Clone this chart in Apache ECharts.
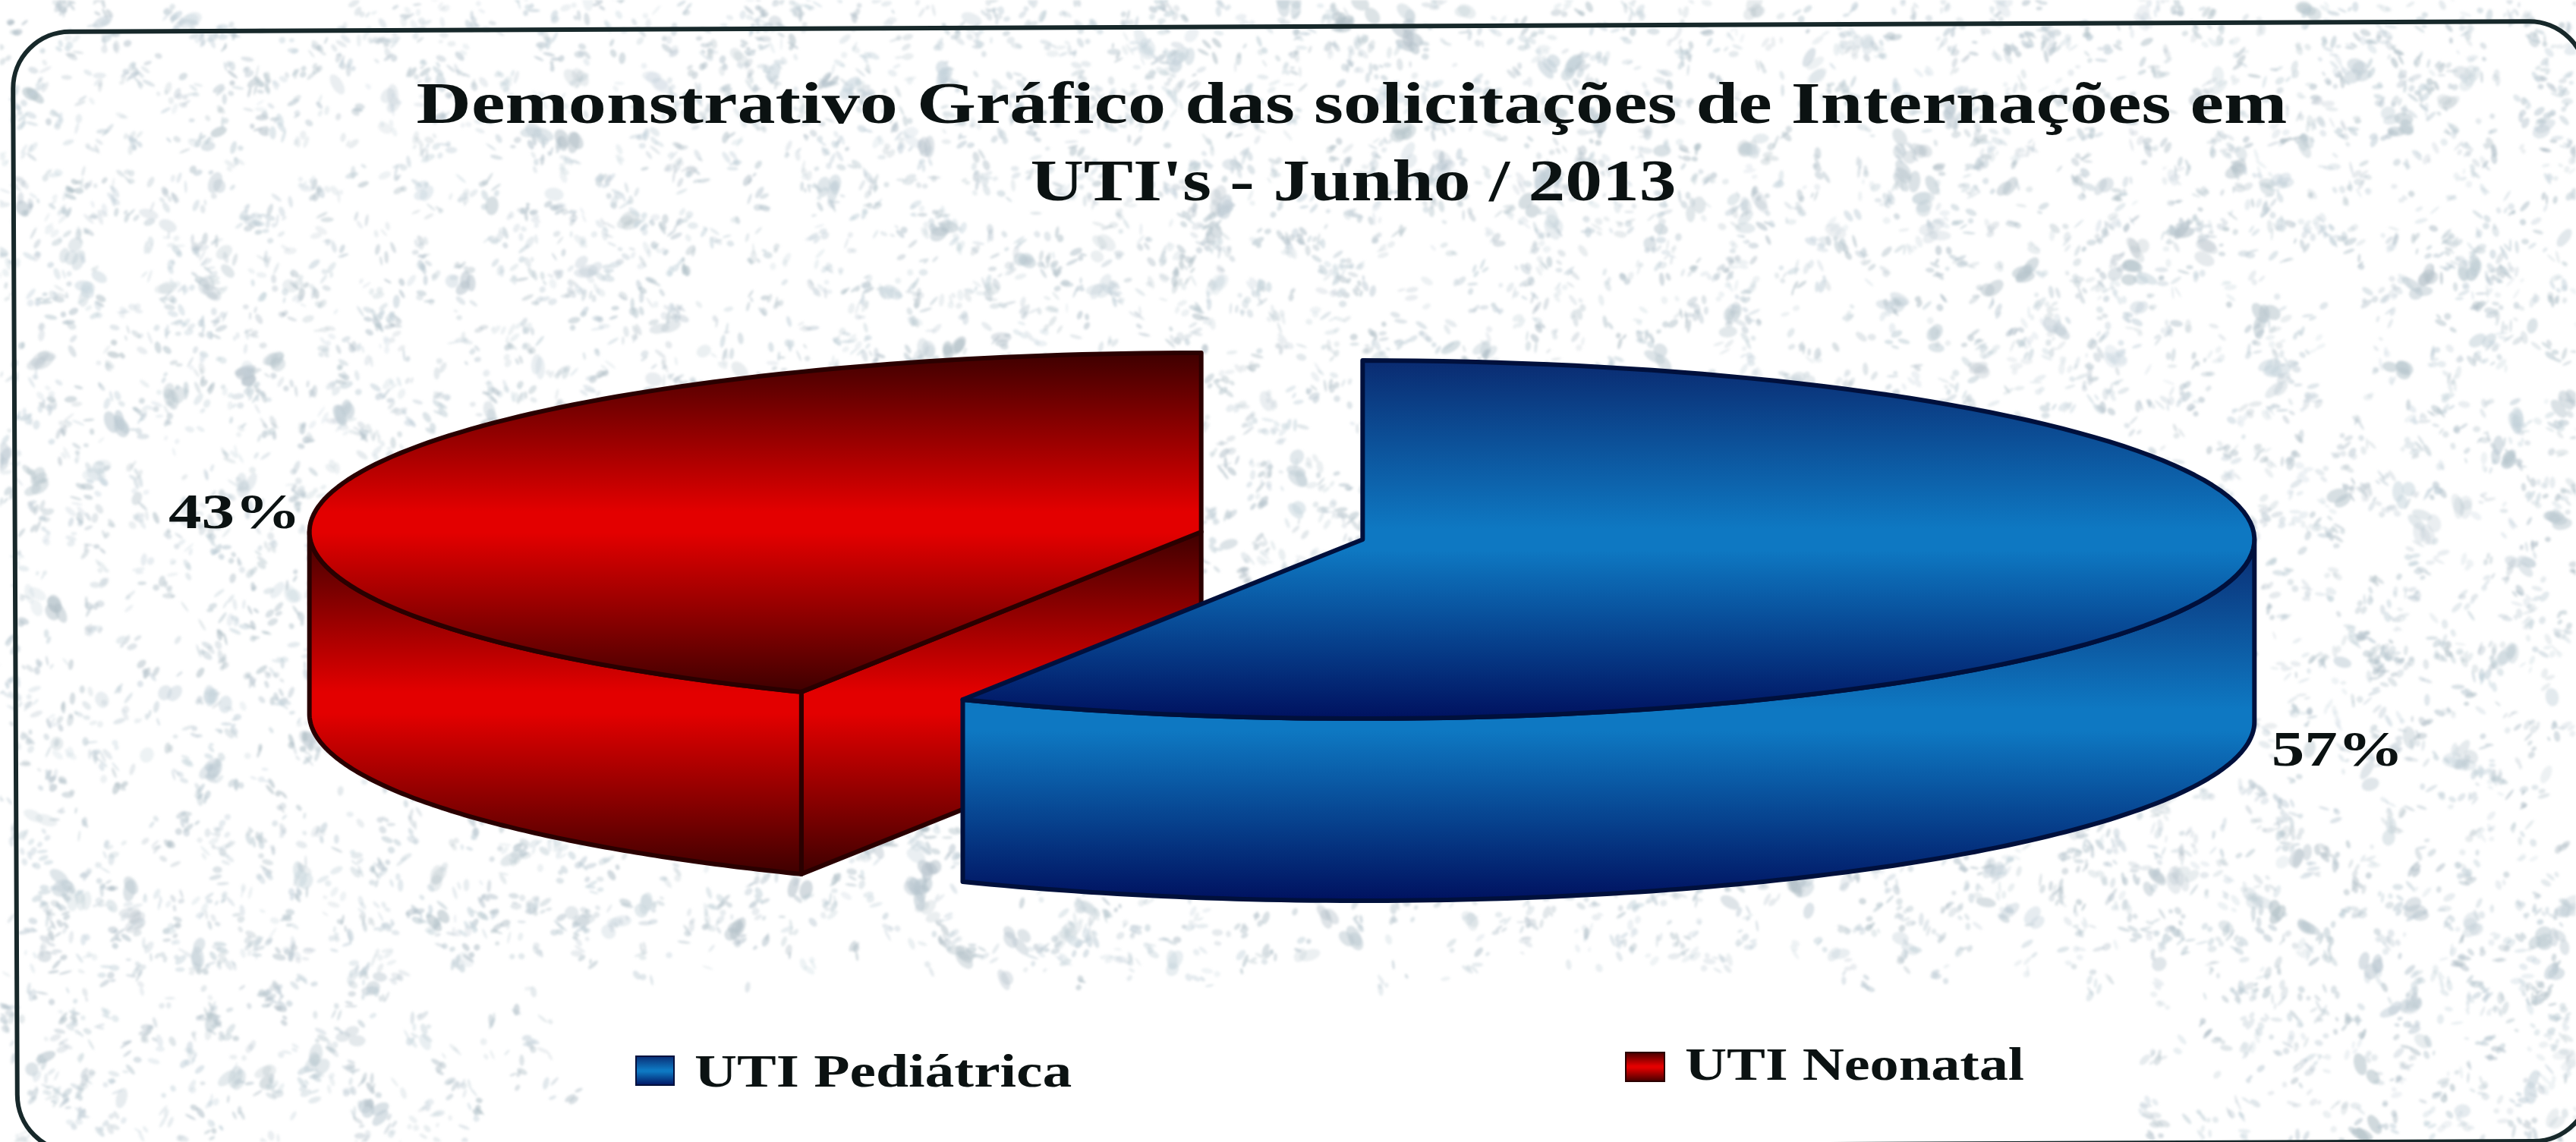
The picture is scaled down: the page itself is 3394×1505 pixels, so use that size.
<!DOCTYPE html>
<html>
<head>
<meta charset="utf-8">
<title>Demonstrativo Gráfico</title>
<style>
  html, body { margin: 0; padding: 0; background: #fff; }
  #main { width: 3394px; height: 1505px; }
</style>
<script src="https://cdn.jsdelivr.net/npm/echarts@6/dist/echarts.min.js"></script>
</head>
<body>
<div id="main"></div>
<script>
// dados do grafico
var categories = ['UTI Pediátrica', 'UTI Neonatal'];
var values = [57.4, 42.6];
var titleLines = ['Demonstrativo Gráfico das solicitações de Internações em', "UTI's - Junho / 2013"];

// layout
var cx = 1689, cy = 706;
var rx = 1175, ry = 236;
var depth = 240;
var explode = 0.093;
var labelFont = 'bold 65px "Liberation Serif"';
var textColor = '#0b1212';
// deslocamento do rotulo em relacao a borda da fatia: dx, dy
var labelShift = [[54, 227], [-43, 33]];
var titlePos = [
  { x: 1781, y: 142, scale: 1.268 },
  { x: 1783, y: 244, scale: 1.235 }
];
var legendPos = [
  { x: 838, y: 1392, w: 50, h: 38, tx: 915, ty: 1416, scale: 1.25 },
  { x: 2142, y: 1387, w: 51, h: 38, tx: 2220, ty: 1407, scale: 1.23 }
];

var palette = [
  { dark: '#0a2a70', mid: '#0e78c2', low: '#00105e', line: '#00103c' },
  { dark: '#3c0000', mid: '#e30000', low: '#3c0000', line: '#2a0000' }
];

function faceColor(p) {
  return {
    type: 'linear', x: 0, y: 0, x2: 0, y2: 1,
    colorStops: [
      { offset: 0, color: p.dark },
      { offset: 0.47, color: p.mid },
      { offset: 0.53, color: p.mid },
      { offset: 1, color: p.low }
    ]
  };
}

// textura de fundo (papel manchado), so decoracao, nao tem dado aqui
function makeTexture() {
  var raw = document.createElement('canvas');
  raw.width = 3394;
  raw.height = 1505;
  var ctx = raw.getContext('2d');
  var seed = 20130601;
  function next() {
    seed = (seed * 1664525 + 1013904223) % 4294967296;
    return seed / 4294967296;
  }
  for (var i = 0; i < 7000; i++) {
    var x = next() * 3394, y = next() * 1505;
    var keep = 1;
    // faixa da legenda quase branca
    if (y > 1250 && x > 500 && x < 3000) {
      var edge = Math.min(x - 500, 3000 - x) / 300;
      keep = 1 - Math.min(1, (y - 1250) / 50) * Math.min(1, edge);
    }
    var a = next(), parts = 1 + Math.floor(next() * 4), big = next() < 0.07;
    if (a > keep) continue;
    var base = 176 + Math.floor(next() * 24);
    ctx.fillStyle = 'rgba(' + base + ',' + (base + 14) + ',' + (base + 22) + ',' + (0.25 + next() * 0.35) + ')';
    var ang = next() * Math.PI;
    for (var j = 0; j < parts; j++) {
      var px = x + (next() - 0.5) * 22, py = y + (next() - 0.5) * 22;
      var l = (big ? 9 : 3) + next() * 6, w = (big ? 6 : 1.5) + next() * 3;
      ctx.beginPath();
      ctx.ellipse(px, py, l, w, ang + next() - 0.5, 0, Math.PI * 2);
      ctx.fill();
    }
  }
  // um blur so no final, por mancha fica lento demais
  var c = document.createElement('canvas');
  c.width = 3394;
  c.height = 1505;
  var out = c.getContext('2d');
  out.filter = 'blur(1.6px)';
  out.drawImage(raw, 0, 0);
  return c;
}

function renderSlice(params, api) {
  var start = api.value(1);
  var size = api.value(0);
  var end = start + size;
  var p = palette[params.dataIndex];
  var squash = ry / rx;
  // a fatia azul fica na frente da vermelha
  var layer = params.dataIndex === 0 ? 2 : 1;

  // o eixo polar da o ponto no circulo, depois achata em elipse
  var mid = api.coord([explode, start + size / 2]);
  var ox = mid[0] - cx, oy = (mid[1] - cy) * squash;
  function pt(r, share) {
    var q = api.coord([r, share]);
    return [q[0] + ox, cy + (q[1] - cy) * squash + oy];
  }
  function arc(from, to) {
    var pts = [], n = 120;
    for (var i = 0; i <= n; i++) {
      pts.push(pt(1, from + (to - from) * i / n));
    }
    return pts;
  }
  function down(q) {
    return [q[0], q[1] + depth];
  }

  function poly(points) {
    return {
      type: 'polygon',
      z2: layer,
      shape: { points: points },
      style: { fill: faceColor(p), stroke: p.line, lineWidth: 6, lineJoin: 'round' }
    };
  }

  var children = [];
  var center = pt(0, start);

  // face do corte, so aparece quando o raio aponta para baixo/frente
  if (start > 50 && start < 100) {
    var e1 = pt(1, start);
    children.push(poly([center, e1, down(e1), down(center)]));
  }
  if (end > 0 && end < 50) {
    var e2 = pt(1, end);
    children.push(poly([center, e2, down(e2), down(center)]));
  }

  // lateral
  var from = Math.max(start, 25), to = Math.min(end, 75);
  if (to > from) {
    var front = arc(from, to);
    children.push(poly(front.concat(front.slice().reverse().map(down))));
  }

  // tampo
  children.push(poly([center].concat(arc(start, end))));

  // rotulo
  var anchor = pt(1, start + size / 2);
  var shift = labelShift[params.dataIndex];
  children.push({
    type: 'text',
    z2: 3,
    x: anchor[0] + shift[0],
    y: anchor[1] + shift[1],
    scaleX: 1.34,
    style: {
      text: Math.round(size) + '%',
      font: labelFont,
      fill: textColor,
      textAlign: shift[0] > 0 ? 'left' : 'right',
      textVerticalAlign: 'middle'
    }
  });

  return { type: 'group', children: children };
}

// acumulado de cada fatia, comecando em 12 horas no sentido horario
var sliceData = [];
var acc = 0;
for (var i = 0; i < values.length; i++) {
  sliceData.push({ name: categories[i], value: [values[i], acc] });
  acc += values[i];
}

var graphics = [
  {
    type: 'image',
    z: -20,
    silent: true,
    style: { image: makeTexture(), x: 0, y: 0, width: 3394, height: 1505 }
  },
  {
    type: 'rect',
    z: -10,
    silent: true,
    rotation: 0.0042,
    originX: 1697,
    originY: 770,
    shape: { x: 20, y: 35, width: 3390, height: 1476, r: 75 },
    style: { fill: 'none', stroke: '#17282a', lineWidth: 6 }
  }
];

titleLines.forEach(function (line, i) {
  graphics.push({
    type: 'text',
    x: titlePos[i].x,
    y: titlePos[i].y,
    scaleX: titlePos[i].scale,
    style: {
      text: line,
      font: 'bold 79px "Liberation Serif"',
      fill: textColor,
      textAlign: 'center',
      textVerticalAlign: 'middle'
    }
  });
});

categories.forEach(function (name, i) {
  var pos = legendPos[i];
  graphics.push({
    type: 'rect',
    shape: { x: pos.x, y: pos.y, width: pos.w, height: pos.h },
    style: { fill: faceColor(palette[i]), stroke: palette[i].line, lineWidth: 2 }
  });
  graphics.push({
    type: 'text',
    x: pos.tx,
    y: pos.ty,
    scaleX: pos.scale,
    style: {
      text: name,
      font: 'bold 62px "Liberation Serif"',
      fill: textColor,
      textAlign: 'left',
      textVerticalAlign: 'middle'
    }
  });
});

var myChart = echarts.init(document.getElementById('main'));
myChart.setOption({
  backgroundColor: '#ffffff',
  animation: false,
  graphic: graphics,
  polar: { center: [cx, cy], radius: rx },
  angleAxis: { show: false, type: 'value', min: 0, max: 100, startAngle: 90 },
  radiusAxis: { show: false, type: 'value', min: 0, max: 1 },
  series: [
    {
      type: 'custom',
      coordinateSystem: 'polar',
      clip: false,
      renderItem: renderSlice,
      data: sliceData
    }
  ]
});
</script>
</body>
</html>
